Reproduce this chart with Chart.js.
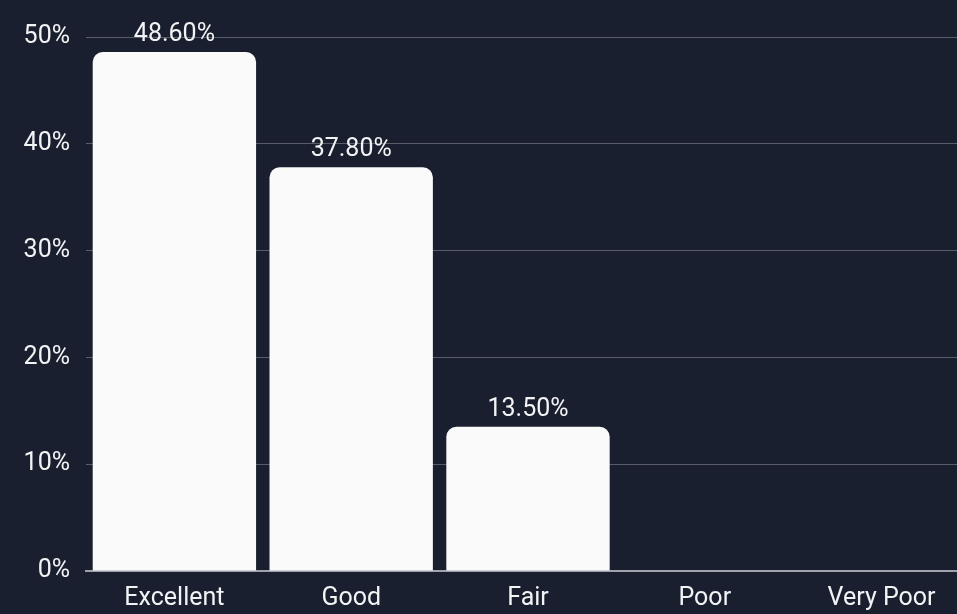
<!DOCTYPE html>
<html>
<head>
<meta charset="utf-8">
<script src="https://cdn.jsdelivr.net/npm/chart.js@4"></script>
<style>
  html, body { margin: 0; padding: 0; background: #191f2e; overflow: hidden; }
  #wrap { width: 970px; height: 614px; }
</style>
</head>
<body>
<div id="wrap"><canvas id="ratingChart"></canvas></div>
<script>
// === Data ===
const categories = ["Excellent", "Good", "Fair", "Poor", "Very Poor"];
const shares = [48.6, 37.8, 13.5, 0, 0];
const yTicks = [0, 10, 20, 30, 40, 50];

const textColor = "#f2f3f5";
const fontSpec = { family: "Roboto, 'Open Sans', sans-serif", size: 25, weight: "normal" };

// value labels above each bar
const valueLabels = {
  id: "valueLabels",
  afterDatasetsDraw(chart) {
    const ctx = chart.ctx;
    const meta = chart.getDatasetMeta(0);
    ctx.save();
    ctx.font = `${fontSpec.size}px ${fontSpec.family}`;
    ctx.fillStyle = textColor;
    ctx.textAlign = "center";
    ctx.textBaseline = "alphabetic";
    meta.data.forEach((bar, i) => {
      if (!shares[i]) return;
      ctx.fillText(shares[i].toFixed(2) + "%", bar.x, bar.y - 11);
    });
    ctx.restore();
  }
};

new Chart(document.getElementById("ratingChart"), {
  type: "bar",
  data: {
    labels: categories,
    datasets: [{
      data: shares,
      backgroundColor: "#fafafa",
      borderRadius: { topLeft: 10, topRight: 10, bottomLeft: 0, bottomRight: 0 },
      borderSkipped: "bottom",
      barPercentage: 0.924,
      categoryPercentage: 1.0
    }]
  },
  options: {
    responsive: true,
    maintainAspectRatio: false,
    animation: false,
    layout: { padding: { top: 37, right: 0, bottom: 0, left: 0 } },
    plugins: {
      legend: { display: false },
      tooltip: { enabled: false }
    },
    scales: {
      x: {
        grid: { display: false, drawTicks: false },
        border: { color: "#9da2ab", width: 2 },
        ticks: { color: textColor, font: fontSpec, padding: 13, maxRotation: 0 },
        afterFit(scale) { scale.height = 43; }
      },
      y: {
        min: 0,
        max: 50,
        afterBuildTicks(scale) { scale.ticks = yTicks.map(v => ({ value: v })); },
        grid: { color: "rgba(255,255,255,0.28)", drawTicks: false, lineWidth: 1 },
        border: { display: false },
        ticks: {
          color: textColor,
          font: fontSpec,
          padding: 16,
          callback: v => v + "%"
        },
        afterFit(scale) { scale.width = 86; }
      }
    }
  },
  plugins: [valueLabels]
});
</script>
</body>
</html>
